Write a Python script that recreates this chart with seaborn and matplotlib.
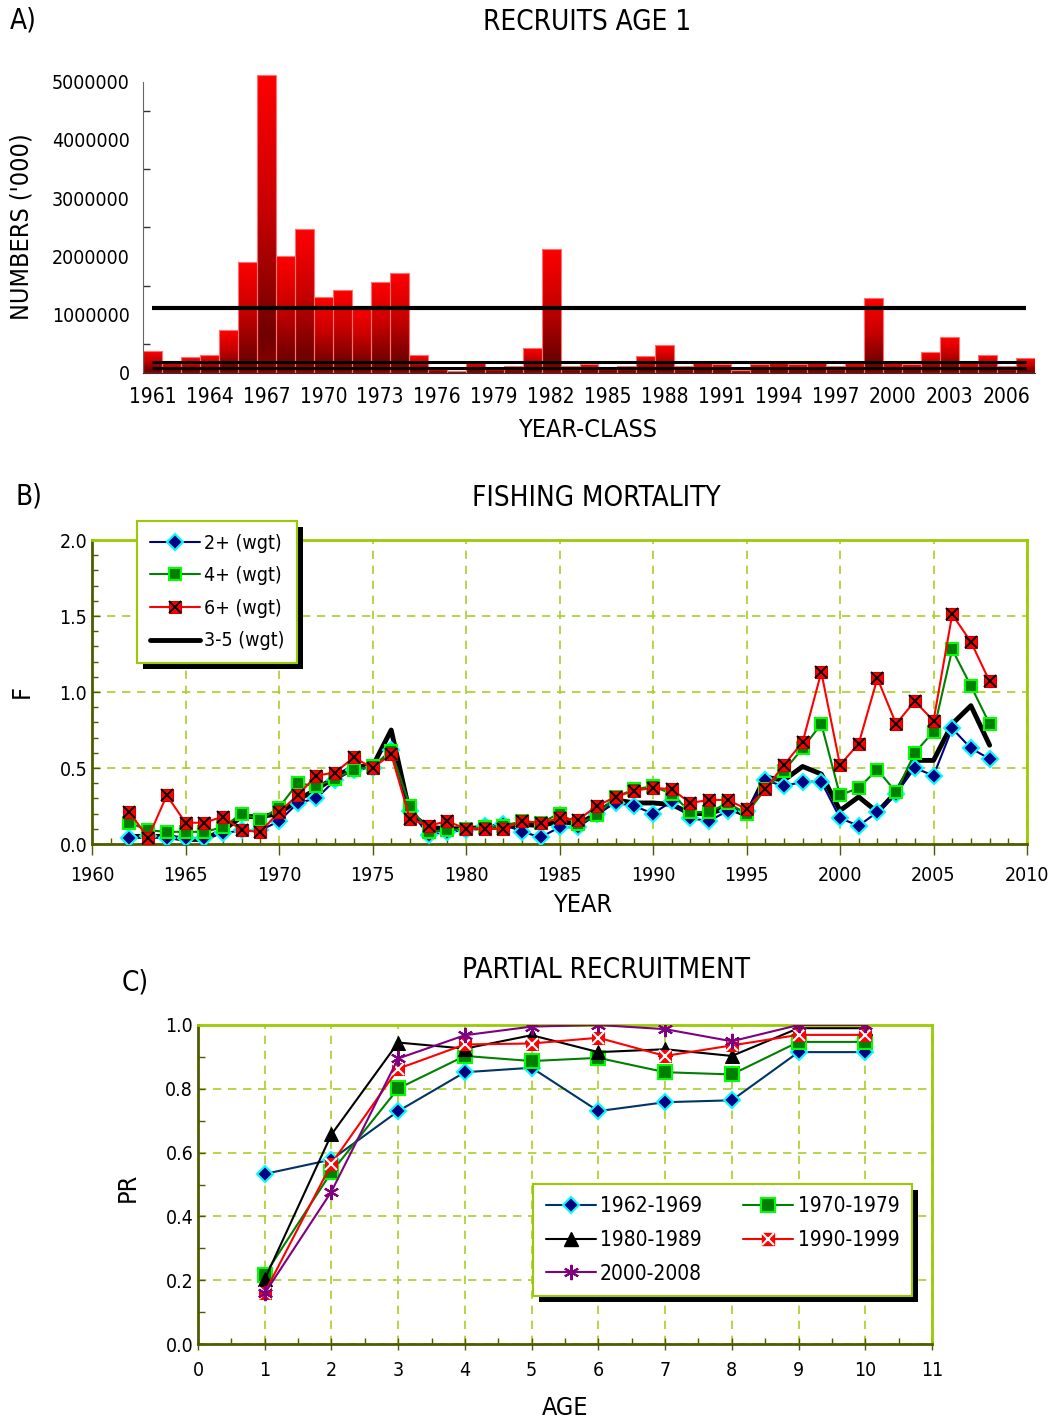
import matplotlib
matplotlib.use("Agg")
import matplotlib.pyplot as plt
import matplotlib.colors as mcolors
import numpy as np
import seaborn as sns
from matplotlib.lines import Line2D
from matplotlib.patches import Rectangle
from matplotlib.ticker import MultipleLocator, StrMethodFormatter

# ---- A) recruits age 1
year_class = list(range(1961, 2008))
recruits = [380000, 200000, 274000, 314000, 736000, 1910000, 5120000, 2010000, 2470000, 1300000,
            1430000, 1140000, 1560000, 1710000, 308000, 74000, 30000, 183000, 70000, 125000,
            422000, 2130000, 114000, 148000, 108000, 120000, 291000, 474000, 120000, 183000,
            160000, 46000, 148000, 183000, 148000, 183000, 114000, 171000, 1280000, 183000,
            160000, 365000, 616000, 183000, 308000, 114000, 251000]
ref_levels = [1113000, 193000, 86000]

# ---- B) fishing mortality
years_f = list(range(1962, 2009))
f_2plus = [0.04, 0.05, 0.04, 0.04, 0.04, 0.07, 0.09, 0.09, 0.15, 0.27, 0.30, 0.42, 0.49, 0.50, 0.62,
           0.22, 0.06, 0.08, 0.09, 0.12, 0.13, 0.08, 0.045, 0.11, 0.11, 0.20, 0.27, 0.25, 0.20, 0.28,
           0.17, 0.15, 0.22, 0.22, 0.42, 0.38, 0.41, 0.41, 0.17, 0.12, 0.21, 0.33, 0.50, 0.45, 0.76,
           0.63, 0.56]
f_4plus = [0.14, 0.09, 0.08, 0.08, 0.08, 0.11, 0.20, 0.16, 0.24, 0.40, 0.38, 0.43, 0.49, 0.51, 0.61,
           0.25, 0.08, 0.09, 0.10, 0.11, 0.12, 0.15, 0.14, 0.20, 0.13, 0.19, 0.31, 0.36, 0.38, 0.33,
           0.21, 0.21, 0.27, 0.20, 0.36, 0.48, 0.63, 0.79, 0.32, 0.37, 0.49, 0.34, 0.60, 0.74, 1.28,
           1.04, 0.79]
f_6plus = [0.21, 0.04, 0.32, 0.14, 0.14, 0.18, 0.09, 0.08, 0.21, 0.32, 0.45, 0.47, 0.57, 0.50, 0.59,
           0.165, 0.12, 0.15, 0.10, 0.10, 0.10, 0.15, 0.14, 0.17, 0.16, 0.25, 0.31, 0.35, 0.37, 0.36,
           0.27, 0.29, 0.29, 0.23, 0.36, 0.52, 0.67, 1.13, 0.52, 0.66, 1.09, 0.79, 0.94, 0.81, 1.51,
           1.33, 1.07]
f_3to5 = [0.05, 0.05, 0.05, 0.03, 0.03, 0.09, 0.18, 0.18, 0.20, 0.29, 0.36, 0.44, 0.51, 0.51, 0.75,
          0.20, 0.11, 0.10, 0.10, 0.11, 0.11, 0.13, 0.12, 0.15, 0.13, 0.20, 0.29, 0.27, 0.27, 0.26,
          0.20, 0.20, 0.24, 0.19, 0.44, 0.42, 0.51, 0.46, 0.22, 0.31, 0.21, 0.34, 0.55, 0.55, 0.79,
          0.91, 0.65]

# ---- C) partial recruitment
ages = list(range(1, 11))
pr_1962_69 = [0.533, 0.578, 0.730, 0.852, 0.866, 0.730, 0.758, 0.764, 0.915, 0.915]
pr_1970_79 = [0.217, 0.539, 0.801, 0.903, 0.887, 0.897, 0.852, 0.845, 0.947, 0.947]
pr_1980_89 = [0.203, 0.657, 0.945, 0.926, 0.968, 0.915, 0.924, 0.903, 0.990, 0.990]
pr_1990_99 = [0.161, 0.565, 0.863, 0.939, 0.942, 0.960, 0.903, 0.936, 0.969, 0.969]
pr_2000_08 = [0.159, 0.478, 0.895, 0.968, 0.995, 1.000, 0.987, 0.949, 1.000, 1.000]

sns.set_style("white")
plt.rcParams['font.family'] = ['DejaVu Sans']
plt.rcParams['font.stretch'] = 'condensed'
plt.rcParams['text.color'] = 'black'
plt.rcParams['xtick.labelcolor'] = 'black'
plt.rcParams['ytick.labelcolor'] = 'black'

GRID = '#a8cf2a'
FRAME = '#99cc00'
DARK = '#4f5b00'

W, H = 1050, 1422
fig = plt.figure(figsize=(W / 100, H / 100), dpi=100)


def box(l, t, r, b):
    return [l / W, 1 - b / H, (r - l) / W, (b - t) / H]


def ftext(x, y, s, **kw):
    fig.text(x / W, 1 - y / H, s, **kw)


def add_shadow(ax, leg, off=6):
    fig.canvas.draw()
    bb = leg.get_frame().get_window_extent()
    x0, y0 = fig.transFigure.inverted().transform((bb.x0 + off, bb.y0 - off))
    x1, y1 = fig.transFigure.inverted().transform((bb.x1 + off, bb.y1 - off))
    ax.add_patch(Rectangle((x0, y0), x1 - x0, y1 - y0, transform=fig.transFigure,
                           facecolor='black', edgecolor='none', zorder=4.9, clip_on=False))


# ================= A
axA = fig.add_axes(box(143, 74, 1035, 373))
sns.barplot(x=[str(y) for y in year_class], y=recruits, color='red', saturation=1,
            width=1, ax=axA)
bar_cmap = mcolors.LinearSegmentedColormap.from_list(
    'bar', [(0, '#8c0000'), (0.12, '#700000'), (0.55, '#c80000'), (1, '#ff0000')])
gradient = np.linspace(0, 1, 256).reshape(-1, 1)
for bar in list(axA.patches):
    x0, y0 = bar.get_x(), bar.get_y()
    w, h = bar.get_width(), bar.get_height()
    im = axA.imshow(gradient, cmap=bar_cmap, extent=[x0, x0 + w, y0, y0 + h], origin='lower',
                    aspect='auto', zorder=1.5, interpolation='bilinear')
    im.set_clip_path(bar)
    bar.set_facecolor('none')
    bar.set_edgecolor('#ff7070')
    bar.set_linewidth(0.8)
    bar.set_zorder(1.6)
axA.hlines(ref_levels, 0, len(year_class) - 1, colors='black', linewidths=[3, 2.2, 2.2], zorder=3)
axA.set_xlim(-0.5, len(year_class) - 0.5)
axA.set_ylim(0, 5130000)
axA.set_xticks(range(0, len(year_class), 3))
axA.set_xticklabels([str(y) for y in year_class[::3]])
axA.set_xticks(np.arange(-0.5, len(year_class), 1), minor=True)
axA.tick_params(axis='x', which='major', length=0, labelsize=15, pad=10)
axA.tick_params(axis='x', which='minor', length=7, width=1, color='#333333', direction='out')
axA.yaxis.set_major_locator(MultipleLocator(1000000))
axA.yaxis.set_minor_locator(MultipleLocator(500000))
axA.yaxis.set_major_formatter(StrMethodFormatter('{x:.0f}'))
axA.tick_params(axis='y', which='major', length=12, width=1, direction='inout', labelsize=14,
                color='#333333')
axA.tick_params(axis='y', which='minor', length=5, width=1, direction='in', left=True,
                color='#333333')
for s in ['top', 'right']:
    axA.spines[s].set_visible(False)
axA.spines['left'].set_bounds(0, 5000000)
axA.spines['left'].set_color('#666666')
axA.spines['bottom'].set_color('#333333')
axA.set_xlabel('')
axA.set_ylabel('')
ftext(10, 20, 'A)', fontsize=20, va='center')
ftext(587, 22, 'RECRUITS AGE 1', fontsize=20, ha='center', va='center')
ftext(588, 430, 'YEAR-CLASS', fontsize=18, ha='center', va='center')
ftext(22, 227, "NUMBERS ('000)", fontsize=18, ha='center', va='center', rotation=90)


# ================= B
def style_frame(ax):
    for s in ['top', 'right']:
        ax.spines[s].set_color(FRAME)
        ax.spines[s].set_linewidth(2)
    for s in ['left', 'bottom']:
        ax.spines[s].set_color(DARK)
        ax.spines[s].set_linewidth(2)
    ax.grid(True, which='major', color=GRID, linestyle=(0, (5, 4)), linewidth=1.2)
    ax.set_axisbelow(True)


axB = fig.add_axes(box(92, 540, 1027, 844))
style_frame(axB)
sns.lineplot(x=years_f, y=f_3to5, ax=axB, color='black', linewidth=3.5, zorder=2)
sns.lineplot(x=years_f, y=f_2plus, ax=axB, color='#000080', linewidth=1.5, marker='D',
             markersize=8, markerfacecolor='#000080', markeredgecolor='#00ffff',
             markeredgewidth=1.5, zorder=3)
sns.lineplot(x=years_f, y=f_4plus, ax=axB, color='#008000', linewidth=1.5, marker='s',
             markersize=9, markerfacecolor='#008000', markeredgecolor='#00ff00',
             markeredgewidth=1.5, zorder=4)
sns.lineplot(x=years_f, y=f_6plus, ax=axB, color='red', linewidth=1.5, marker='s',
             markersize=9, markerfacecolor='red', markeredgecolor='#cc0000',
             markeredgewidth=0.8, zorder=4.2)
axB.plot(years_f, f_6plus, linestyle='none', marker='x', markersize=8, color='black',
         markeredgewidth=1.4, zorder=4.3)
axB.set_xlim(1960, 2010)
axB.set_ylim(0, 2.0)
axB.xaxis.set_major_locator(MultipleLocator(5))
axB.xaxis.set_minor_locator(MultipleLocator(1))
axB.yaxis.set_major_locator(MultipleLocator(0.5))
axB.yaxis.set_minor_locator(MultipleLocator(0.1))
axB.yaxis.set_major_formatter(StrMethodFormatter('{x:.1f}'))
axB.tick_params(axis='x', which='major', length=8, width=1, direction='out', color=DARK,
                labelsize=14, pad=8, bottom=True)
axB.tick_params(axis='x', which='minor', length=4, width=1, direction='in', color=DARK,
                bottom=True)
axB.tick_params(axis='y', which='major', length=6, width=1, direction='in', color=DARK,
                labelsize=14, left=True)
axB.tick_params(axis='y', which='minor', length=4, width=1, direction='in', color=DARK,
                left=True)
axB.set_xlabel('')
axB.set_ylabel('')
hB = [Line2D([], [], color='#000080', lw=1.5, marker='D', ms=8, mfc='#000080',
             mec='#00ffff', mew=1.5),
      Line2D([], [], color='#008000', lw=1.5, marker='s', ms=9, mfc='#008000',
             mec='#00ff00', mew=1.5),
      (Line2D([], [], color='red', lw=1.5, marker='s', ms=9, mfc='red', mec='#cc0000', mew=0.8),
       Line2D([], [], ls='none', marker='x', ms=8, color='black', mew=1.4)),
      Line2D([], [], color='black', lw=3.5)]
legB = axB.legend(hB, ['2+ (wgt)', '4+ (wgt)', '6+ (wgt)', '3-5 (wgt)'], loc='upper left',
                  bbox_to_anchor=((137 - 92) / 935, (844 - 521) / 304), borderaxespad=0,
                  fancybox=False, framealpha=1, edgecolor=FRAME, fontsize=14,
                  handlelength=2.6, labelspacing=0.7, borderpad=0.65, handletextpad=0.2)
legB.get_frame().set_linewidth(1.5)
ftext(16, 497, 'B)', fontsize=20, va='center')
ftext(596, 498, 'FISHING MORTALITY', fontsize=20, ha='center', va='center')
ftext(583, 905, 'YEAR', fontsize=18, ha='center', va='center')
ftext(22, 692, 'F', fontsize=18, ha='center', va='center', rotation=90)

# ================= C
axC = fig.add_axes(box(198, 1025, 932, 1344))
style_frame(axC)
sns.lineplot(x=ages, y=pr_1962_69, ax=axC, color='#003366', linewidth=1.5, marker='D',
             markersize=8, markerfacecolor='#000080', markeredgecolor='#00ffff',
             markeredgewidth=1.5, zorder=3)
sns.lineplot(x=ages, y=pr_1970_79, ax=axC, color='#008000', linewidth=1.5, marker='s',
             markersize=10, markerfacecolor='#008000', markeredgecolor='#00ff00',
             markeredgewidth=1.5, zorder=3)
sns.lineplot(x=ages, y=pr_1980_89, ax=axC, color='black', linewidth=1.5, marker='^',
             markersize=10, markerfacecolor='black', markeredgecolor='black', zorder=3)
sns.lineplot(x=ages, y=pr_1990_99, ax=axC, color='red', linewidth=1.5, marker='s',
             markersize=9, markerfacecolor='red', markeredgecolor='red', zorder=3.2)
axC.plot(ages, pr_1990_99, linestyle='none', marker='x', markersize=8, color='white',
         markeredgewidth=1.5, zorder=3.3)
sns.lineplot(x=ages, y=pr_2000_08, ax=axC, color='#800080', linewidth=1.5,
             marker=(6, 2, 0), markersize=11, markeredgecolor='#800080',
             markeredgewidth=1.5, zorder=3.4)
axC.set_xlim(0, 11)
axC.set_ylim(0, 1.0)
axC.xaxis.set_major_locator(MultipleLocator(1))
axC.xaxis.set_minor_locator(MultipleLocator(0.5))
axC.yaxis.set_major_locator(MultipleLocator(0.2))
axC.yaxis.set_minor_locator(MultipleLocator(0.1))
axC.yaxis.set_major_formatter(StrMethodFormatter('{x:.1f}'))
axC.tick_params(axis='x', which='major', length=8, width=1, direction='inout', color=DARK,
                labelsize=14, pad=8, bottom=True)
axC.tick_params(axis='x', which='minor', length=4, width=1, direction='in', color=DARK,
                bottom=True)
axC.tick_params(axis='y', which='both', length=5, width=1, direction='in', color=DARK,
                labelsize=14, left=True)
axC.set_xlabel('')
axC.set_ylabel('')
hC = {
    '1962-1969': Line2D([], [], color='#003366', lw=1.5, marker='D', ms=8, mfc='#000080',
                        mec='#00ffff', mew=1.5),
    '1970-1979': Line2D([], [], color='#008000', lw=1.5, marker='s', ms=10, mfc='#008000',
                        mec='#00ff00', mew=1.5),
    '1980-1989': Line2D([], [], color='black', lw=1.5, marker='^', ms=10, mfc='black'),
    '1990-1999': (Line2D([], [], color='red', lw=1.5, marker='s', ms=9, mfc='red', mec='red'),
                  Line2D([], [], ls='none', marker='x', ms=8, color='white', mew=1.5)),
    '2000-2008': Line2D([], [], color='#800080', lw=1.5, marker=(6, 2, 0), ms=11,
                        mec='#800080', mew=1.5),
}
orderC = ['1962-1969', '1980-1989', '2000-2008', '1970-1979', '1990-1999']
legC = axC.legend([hC[k] for k in orderC], orderC, ncol=2, loc='upper left',
                  bbox_to_anchor=((533 - 198) / 734, (1344 - 1184) / 319), borderaxespad=0,
                  fancybox=False, framealpha=1, edgecolor=FRAME, fontsize=15,
                  handlelength=2.4, labelspacing=0.65, borderpad=0.6, handletextpad=0.2,
                  columnspacing=2.0)
legC.get_frame().set_linewidth(1.5)
ftext(122, 983, 'C)', fontsize=20, va='center')
ftext(606, 970, 'PARTIAL RECRUITMENT', fontsize=20, ha='center', va='center')
ftext(565, 1408, 'AGE', fontsize=18, ha='center', va='center')
ftext(128, 1187, 'PR', fontsize=18, ha='center', va='center', rotation=90)

add_shadow(axB, legB)
add_shadow(axC, legC)

fig.savefig('out.png', dpi=100)
